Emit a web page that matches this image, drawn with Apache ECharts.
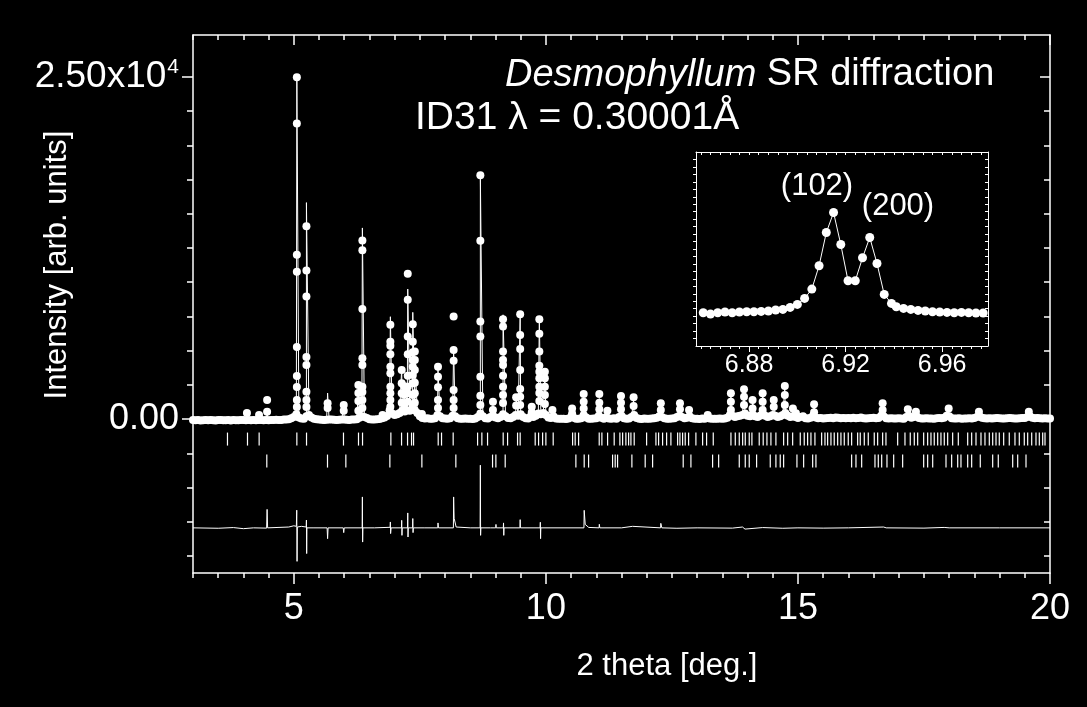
<!DOCTYPE html>
<html><head><meta charset="utf-8">
<script src="https://cdn.jsdelivr.net/npm/echarts@6/dist/echarts.min.js"></script>
<style>html,body{margin:0;padding:0;background:#000;}#c{width:1087px;height:707px;}</style>
</head><body><div id="c"></div><script>
// ---------- DATA ----------
// observed background scan, 3.00 .. 20.00 deg in 0.05 deg steps
const bgStart = 3.0, bgStep = 0.05;
const bgObs = [
-60,-90,-70,-100,-80,-60,-90,-70,-80,-100,-70,-60,-90,-80,-70,-100,-60,-80,-90,-70,
-70,-80,-60,-90,-70,-80,-60,-70,-90,-60,-80,-70,-60,-50,-70,-60,-40,-30,-10,60,
150,350,120,40,20,200,300,120,30,-20,-40,-50,-60,-50,-40,-30,-50,-60,-50,-40,
-30,-50,-60,-40,-30,-20,100,200,150,80,-10,-30,-40,-20,0,60,120,230,650,400,
300,350,450,600,550,650,600,700,650,450,200,80,40,60,30,20,60,300,200,60,
40,20,60,250,200,60,30,20,40,30,20,10,40,150,400,200,60,40,150,250,
120,60,150,350,200,80,60,150,300,250,350,150,60,50,200,150,250,400,350,450,
300,120,80,200,40,30,20,30,10,40,150,100,30,20,60,300,120,20,30,40,
60,250,100,30,150,40,20,60,30,150,250,60,30,40,150,300,80,30,10,40,
30,20,40,60,100,200,150,60,30,20,40,60,150,250,150,60,100,200,60,30,
20,10,40,20,100,40,30,20,30,40,20,50,100,300,250,150,200,250,300,400,
250,200,350,200,150,250,400,250,150,200,300,250,150,200,300,450,250,150,200,150,
80,150,200,60,40,100,250,120,60,80,40,60,80,100,60,120,90,60,80,60,
80,60,100,60,80,120,60,40,60,80,100,60,80,250,200,60,40,60,50,40,
60,40,30,150,250,100,150,200,80,40,50,60,40,50,30,60,80,60,100,250,
200,60,40,50,60,30,40,50,60,40,80,150,200,100,60,50,60,40,60,80,
60,40,50,60,80,60,50,40,60,70,80,150,200,100,60,80,60,50,60,40,
50];

// Bragg peaks: position, calculated top, observed points in the peak
const peakPos  = [4.07,4.31,4.47,5.06,5.25,5.67,5.99,6.28,6.36,6.76,6.915,7.14,7.19,7.26,7.36,7.40,7.54,7.86,8.17,8.70,8.95,9.15,9.41,9.49,9.72,9.87,9.98,10.13,10.52,10.75,11.06,11.22,11.49,11.74,12.28,12.66,12.84,13.21,13.67,13.93,14.10,14.30,14.52,14.74,14.90,14.96,15.32,16.68,17.18,17.34,17.99,18.59,19.58];
const peakCalc = [300,200,400,25000,15820,1900,900,2300,13970,250,7480,3830,2200,9500,7800,4500,300,3600,5200,17800,1000,7620,1500,7670,800,7380,3200,500,700,1200,1500,500,1500,1400,900,1100,600,250,1800,2100,1300,1800,1300,2300,700,400,1000,1100,650,500,700,500,500];
const peakObs  = [
 [440],[300],[1390,540],
 [24980,21610,12010,10770,5270,3150,2340,1390,880],
 [14090,10860,8960,4540,3950,2000,1390,880],
 [1150,800],[1030,600],[2490,1900,1320,600],
 [13060,12330,8040,4450,3950,2370,1980,1390,810],
 [290],
 [6890,5660,5350,4740,3830,3350,2370,1880,1390,900],
 [3590,2615,1883,1194],[2400,1800,1100],
 [10620,8720,6030,4740,3170,2370,1880,1270],
 [6935,5660,4885,4320,3830,3220,2615,1760,1025],
 [4930,4320,3590,2660,1880,1200],
 [370],[3830,3100,2320,1390,800],
 [7490,5050,4270,2120,1390,800],
 [17820,13040,7130,6030,3100,1710,1025],
 [1270,660],
 [7300,6760,4930,4320,3955,3170,2366,1760,1170],
 [1600,1000],
 [7670,6150,5130,3590,2200,1630,1025],
 [900,500],
 [7300,6230,4930,3900,3460,2980,2366,1900,1320],
 [3460,2980,2366,1760,1100],
 [660],[780,400],[1830,1270,780],[1830,1190,710],[610],[1685,1190,710],[1590,950],
 [1150,660],[1150,710],[660],[290],[1880,1270,660],[2175,1630,1025],[1390,780],
 [1880,1270,660],[1390,900],[2420,1760,1025],[780],[420],[1080,500],[1150,660],
 [710],[535],[780],[535],[535]
];

// Bragg reflection markers (two phases)
const braggA = [3.684,4.081,4.312,5.060,5.252,5.985,6.283,6.363,6.925,7.137,7.256,7.335,7.375,7.864,7.930,8.161,8.645,
 8.730,8.843,9.153,9.240,9.438,9.490,9.788,9.855,9.935,10.000,10.145,10.530,10.581,10.649,11.058,11.111,11.224,11.355,
 11.468,11.522,11.587,11.641,11.687,11.752,11.998,12.183,12.236,12.315,12.395,12.480,12.613,12.659,12.712,12.764,12.831,
 12.976,13.109,13.188,13.320,13.671,13.757,13.836,13.903,13.955,14.034,14.087,14.232,14.311,14.385,14.464,14.563,14.716,
 14.796,14.895,15.046,15.125,15.192,15.258,15.337,15.470,15.536,15.589,15.655,15.720,15.788,15.853,15.919,15.998,16.065,
 16.184,16.236,16.316,16.395,16.514,16.581,16.680,16.746,16.978,17.123,17.228,17.308,17.375,17.494,17.573,17.639,17.704,
 17.772,17.837,17.903,17.970,18.069,18.181,18.367,18.446,18.532,18.631,18.710,18.796,18.863,18.929,18.994,19.081,19.192,
 19.305,19.391,19.490,19.557,19.637,19.722,19.788,19.855,19.901];
const braggB = [4.464,5.668,6.032,6.905,7.540,8.214,8.942,9.008,9.193,10.595,10.760,10.847,11.323,11.375,11.422,11.706,
 11.970,12.117,12.724,12.877,13.307,13.427,13.836,13.955,14.034,14.180,14.451,14.563,14.649,14.716,14.980,15.113,15.292,
 15.357,16.065,16.151,16.264,16.528,16.594,16.661,16.766,16.899,17.077,17.494,17.573,17.673,17.937,18.049,18.169,18.234,
 18.367,18.446,18.617,18.863,18.974,19.260,19.359,19.524];
const braggALevel = -1462, braggBLevel = -3070;

// difference curve (offset)
const diffX = [3.0,3.5,3.8,4.0,4.2,4.46,4.47,4.48,4.9,5.0,5.05,5.058,5.064,5.07,5.15,5.245,5.25,5.255,5.26,5.4,5.66,5.67,5.68,
 5.98,5.99,6.0,6.355,6.36,6.365,6.37,6.6,6.91,6.915,6.92,6.93,7.135,7.14,7.145,7.15,7.255,7.26,7.265,7.27,7.355,7.36,7.365,7.37,
 7.6,7.855,7.86,7.87,8.165,8.17,8.18,8.22,8.5,8.695,8.70,8.705,8.71,8.9,9.005,9.01,9.015,9.155,9.16,9.165,9.17,9.485,9.49,9.495,
 9.885,9.89,9.895,9.9,10.3,10.755,10.76,10.78,10.85,11.055,11.06,11.07,11.5,11.72,11.73,12.275,12.28,12.3,12.6,13.0,13.7,13.9,
 13.95,14.3,14.7,15.0,15.5,16.0,16.7,16.75,17.5,17.9,18.0,19.0,20.0];
const diffY = [-7950,-7980,-7930,-8010,-7950,-7970,-6600,-7950,-7890,-7800,-7840,-6660,-10400,-7890,-7840,-7890,-7380,-9830,-7950,
 -7950,-7950,-8740,-7950,-7950,-8300,-7950,-7950,-5690,-8990,-7950,-7950,-7910,-7520,-8370,-7950,-7950,-7400,-8500,-7950,-7950,
 -6860,-8620,-7950,-7950,-7270,-8300,-7950,-7950,-7950,-7590,-7950,-7950,-5690,-7250,-7890,-7950,-7950,-3370,-8500,-7950,-7950,
 -7950,-7700,-7950,-7950,-7590,-8500,-7950,-7950,-7350,-7950,-7950,-7540,-8740,-7950,-7950,-7950,-6670,-7700,-7920,-7950,-7690,
 -7950,-7950,-7840,-7950,-7950,-7620,-7950,-7980,-7950,-7970,-7890,-8040,-7930,-7980,-7950,-7970,-7950,-7890,-7950,-7970,-7920,
 -7950,-7950,-7950];

// inset: (102)/(200) doublet
const insetX = [6.861,6.864,6.867,6.870,6.873,6.876,6.879,6.882,6.885,6.888,6.891,6.894,6.897,6.900,
 6.903,6.906,6.909,6.912,6.915,6.918,6.921,6.924,6.927,6.930,6.933,6.936,6.939,6.941,
 6.944,6.947,6.950,6.953,6.956,6.959,6.962,6.965,6.968,6.971,6.974,6.977];
const insetY = [230,141,230,275,230,275,297,297,320,342,409,453,587,788,
 1189,1814,3375,5605,6943,4802,2371,2371,3910,5271,3531,1457,855,632,
 520,453,386,342,297,275,253,230,253,230,208,208];

// ticks
const xMinorTicks = [3,3.5,4,4.5,5,5.5,6,6.5,7,7.5,8,8.5,9,9.5,10,10.5,11,11.5,12,12.5,13,13.5,14,14.5,15,15.5,16,16.5,17,17.5,18,18.5,19,19.5,20];
const xMajorTicks = [5,10,15,20];
const yMinorTicks = [-10000,-7500,-5000,-2500,0,2500,5000,7500,10000,12500,15000,17500,20000,22500,25000];
const yMajorTicks = [0,25000];
const insetXTicks = [6.860,6.864,6.868,6.872,6.876,6.880,6.884,6.888,6.892,6.896,6.900,6.904,6.908,6.912,6.916,6.920,6.924,6.928,6.932,6.936,6.940,6.944,6.948,6.952,6.956,6.960,6.964,6.968,6.972,6.976];
const insetXLabels = [6.88,6.92,6.96];
const insetYTicks = [-1500,-1000,-500,0,500,1000,1500,2000,2500,3000,3500,4000,4500,5000,5500,6000,6500,7000,7500,8000,8500,9000,9500,10000,10500];

// ---------- BUILD ----------
const FONT = 'Liberation Sans, Arial, sans-serif';
const W = '#ffffff';
const bgPts = bgObs.map((v, i) => [+(bgStart + i * bgStep).toFixed(2), v]);
const obsData = bgPts.slice();
peakPos.forEach((p, i) => peakObs[i].forEach(v => obsData.push([p, v])));
const calcData = bgPts.concat(peakPos.map((p, i) => [p, peakCalc[i]])).sort((a, b) => a[0] - b[0]);
const diffData = diffX.map((x, i) => [x, diffY[i]]);
const insetData = insetX.map((x, i) => [x, insetY[i]]);

const line = {onZero: false, lineStyle: {color: W, width: 1.5}};
const noLine = {show: false, onZero: false};
const thin = {onZero: false, lineStyle: {color: W, width: 1}};
function xa(o) { return Object.assign({type: 'value', splitLine: {show: false}, axisLabel: {show: false}}, o); }
const txt = (s, x, y, size, extra) => Object.assign({type: 'text', x: x, y: y, z: 100,
  style: {text: s, fill: W, fontSize: size, fontFamily: FONT, align: 'center', verticalAlign: 'middle',
          textAlign: 'center', textVerticalAlign: 'middle'}}, extra || {});

const chart = echarts.init(document.getElementById('c'), null, {renderer: 'canvas'});
chart.setOption({
  backgroundColor: '#000',
  animation: false,
  title: [
    {text: '{i|Desmophyllum} SR diffraction', left: 505, top: 56, padding: 0,
     textStyle: {color: W, fontSize: 38, fontWeight: 'normal', fontFamily: FONT,
       rich: {i: {fontStyle: 'italic', color: W, fontSize: 38, fontFamily: FONT}}}},
    {text: 'ID31 λ = 0.30001Å', left: 415, top: 99, padding: 0,
     textStyle: {color: W, fontSize: 39, fontWeight: 'normal', fontFamily: FONT}}
  ],
  graphic: [
    txt('Intensity [arb. units]', 57, 265, 31, {rotation: Math.PI / 2}),
    txt('2 theta [deg.]', 667, 666, 31),
    txt('(102)', 817, 186, 31),
    txt('(200)', 898, 206, 31)
  ],
  grid: [
    {left: 193, right: 37, top: 35, bottom: 134, show: false},
    {left: 696, right: 99, top: 152, bottom: 361, show: true, backgroundColor: '#000', borderWidth: 0, z: 10}
  ],
  xAxis: [
    xa({gridIndex: 0, position: 'bottom', min: 3, max: 20, axisLine: line,
        axisTick: {customValues: xMinorTicks, length: 5, lineStyle: {color: W, width: 1.5}},
        axisLabel: {show: true, customValues: xMajorTicks, color: W, fontSize: 36, fontFamily: FONT, margin: 18}}),
    xa({gridIndex: 0, position: 'bottom', min: 3, max: 20, axisLine: noLine,
        axisTick: {customValues: xMajorTicks, length: 11, lineStyle: {color: W, width: 1.5}}}),
    xa({gridIndex: 0, position: 'top', min: 3, max: 20, axisLine: line,
        axisTick: {customValues: xMinorTicks, inside: true, length: 5, lineStyle: {color: W, width: 1.5}}}),
    xa({gridIndex: 0, position: 'top', min: 3, max: 20, axisLine: noLine,
        axisTick: {customValues: xMajorTicks, inside: true, length: 10, lineStyle: {color: W, width: 1.5}}}),
    xa({gridIndex: 1, position: 'bottom', min: 6.858, max: 6.979, axisLine: thin,
        axisTick: {customValues: insetXTicks, length: 3, lineStyle: {color: W, width: 1}},
        axisLabel: {show: true, customValues: insetXLabels, color: W, fontSize: 25, fontFamily: FONT, margin: 7,
                    formatter: v => Number(v).toFixed(2)}, z: 11}),
    xa({gridIndex: 1, position: 'bottom', min: 6.858, max: 6.979, axisLine: noLine,
        axisTick: {customValues: insetXLabels, length: 6, lineStyle: {color: W, width: 1}}, z: 11}),
    xa({gridIndex: 1, position: 'top', min: 6.858, max: 6.979, axisLine: thin,
        axisTick: {customValues: insetXTicks, inside: true, length: 3, lineStyle: {color: W, width: 1}}, z: 11})
  ],
  yAxis: [
    xa({gridIndex: 0, position: 'left', min: -11250, max: 28070, axisLine: line,
        axisTick: {customValues: yMinorTicks, length: 6, lineStyle: {color: W, width: 1.5}},
        axisLabel: {show: true, customValues: yMajorTicks, color: W, fontSize: 36, fontFamily: FONT, margin: 14,
          formatter: v => v === 0 ? '0.00' : '{m|2.50x10}{s|4}',
          rich: {m: {fontSize: 37, color: W, fontFamily: FONT, lineHeight: 40},
                 s: {fontSize: 21, color: W, fontFamily: FONT, verticalAlign: 'top', lineHeight: 40, padding: [0, 0, 16, 1]}}}}),
    xa({gridIndex: 0, position: 'left', min: -11250, max: 28070, axisLine: noLine,
        axisTick: {customValues: yMajorTicks, length: 11, lineStyle: {color: W, width: 1.5}}}),
    xa({gridIndex: 0, position: 'right', min: -11250, max: 28070, axisLine: line,
        axisTick: {customValues: yMinorTicks, inside: true, length: 6, lineStyle: {color: W, width: 1.5}}}),
    xa({gridIndex: 0, position: 'right', min: -11250, max: 28070, axisLine: noLine,
        axisTick: {customValues: yMajorTicks, inside: true, length: 10, lineStyle: {color: W, width: 1.5}}}),
    xa({gridIndex: 1, position: 'left', min: -2000, max: 11000, axisLine: thin,
        axisTick: {customValues: insetYTicks, length: 3, lineStyle: {color: W, width: 1}}, z: 11}),
    xa({gridIndex: 1, position: 'right', min: -2000, max: 11000, axisLine: thin,
        axisTick: {customValues: insetYTicks, inside: true, length: 3, lineStyle: {color: W, width: 1}}, z: 11})
  ],
  series: [
    {type: 'line', xAxisIndex: 0, yAxisIndex: 0, data: calcData, showSymbol: false, symbol: 'none',
     lineStyle: {color: W, width: 1}, silent: true, z: 2},
    {type: 'scatter', xAxisIndex: 0, yAxisIndex: 0, data: obsData, symbol: 'circle', symbolSize: 8,
     itemStyle: {color: W, opacity: 1}, silent: true, z: 3, large: false},
    {type: 'scatter', xAxisIndex: 0, yAxisIndex: 0, data: braggA.map(p => [p, braggALevel]), symbol: 'rect',
     symbolSize: [1.2, 13], itemStyle: {color: W, opacity: 1}, silent: true, z: 3},
    {type: 'scatter', xAxisIndex: 0, yAxisIndex: 0, data: braggB.map(p => [p, braggBLevel]), symbol: 'rect',
     symbolSize: [1.2, 13], itemStyle: {color: W, opacity: 1}, silent: true, z: 3},
    {type: 'line', xAxisIndex: 0, yAxisIndex: 0, data: diffData, showSymbol: false, symbol: 'none',
     lineStyle: {color: W, width: 1}, silent: true, z: 2},
    {type: 'line', xAxisIndex: 4, yAxisIndex: 4, data: insetData, symbol: 'circle', symbolSize: 9,
     showSymbol: true, showAllSymbol: true, lineStyle: {color: W, width: 1}, itemStyle: {color: W, opacity: 1},
     silent: true, z: 12}
  ]
});
</script></body></html>
